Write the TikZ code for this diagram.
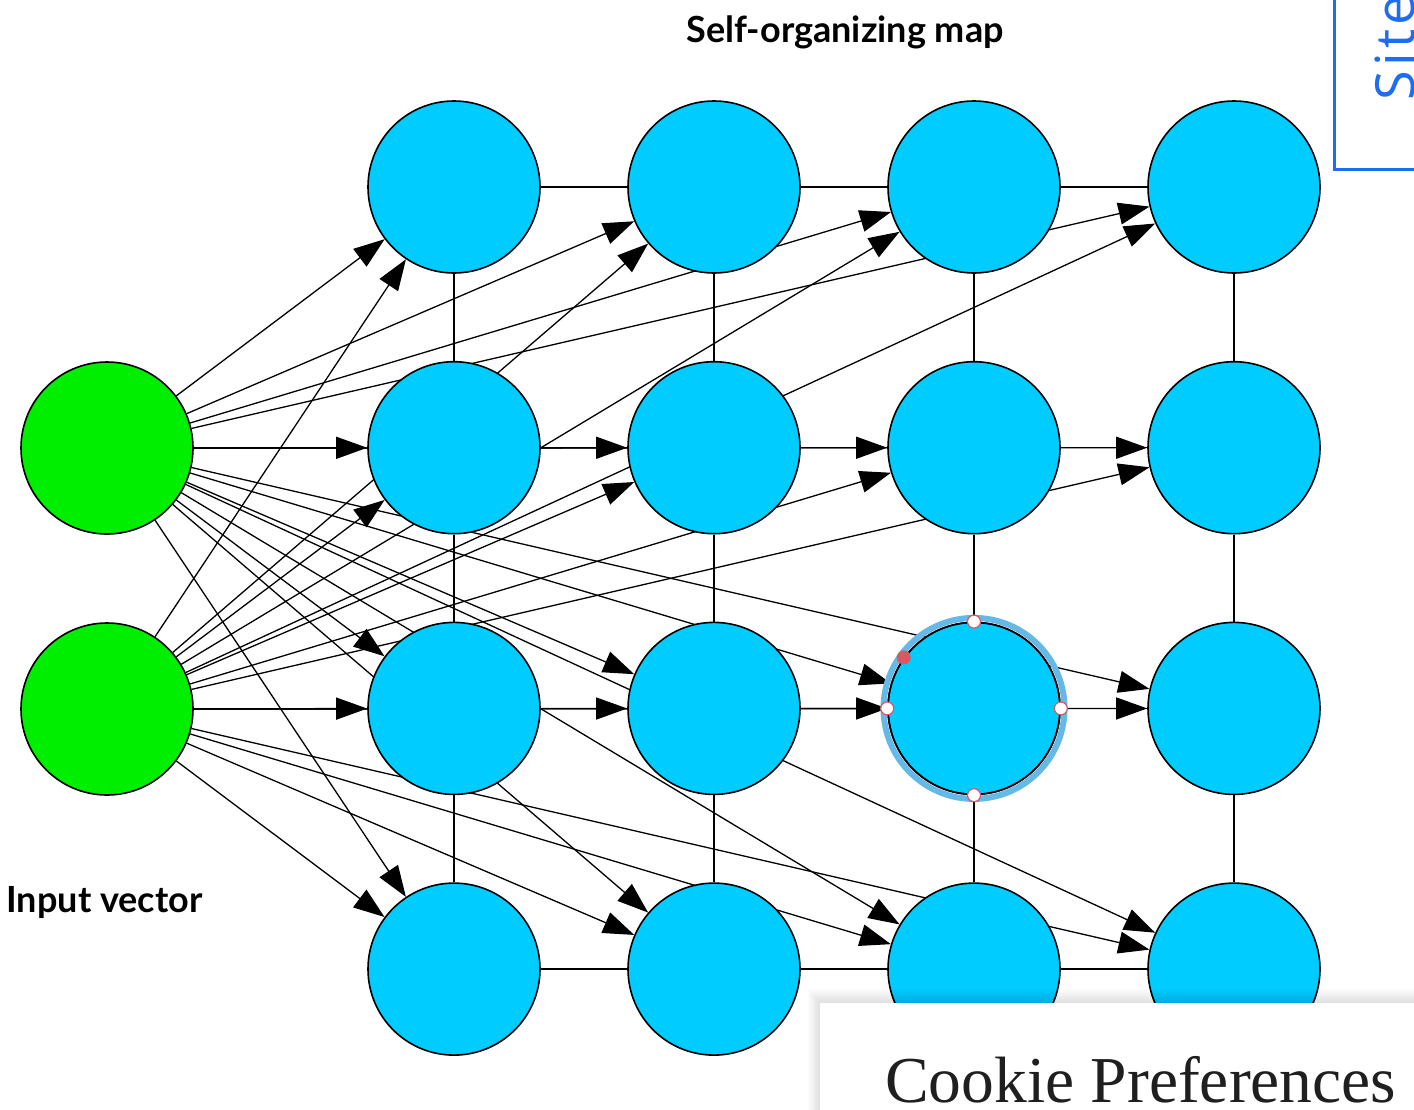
\documentclass[tikz,border=0pt]{standalone}
\usepackage{fontspec}
\setmainfont{Lato}
\newfontfamily\cookiefont{Liberation Serif}
\newfontfamily\sitefont[LetterSpace=8]{Open Sans}
\usetikzlibrary{arrows.meta}
\definecolor{mapblue}{RGB}{0,204,255}
\definecolor{inputgreen}{RGB}{0,238,0}
\definecolor{selring}{RGB}{100,185,230}
\definecolor{handlered}{RGB}{218,88,100}
\definecolor{sitelink}{RGB}{30,108,240}
\pgfdeclarelayer{canvas}
\pgfdeclarelayer{bg}
\pgfsetlayers{canvas,bg,main}
\begin{document}
\begin{tikzpicture}[x=1pt,y=-1pt,
  unit/.style={circle, draw=black, line width=1.6pt, minimum size=172pt, inner sep=0pt},
  mapunit/.style={unit, fill=mapblue},
  inunit/.style={unit, fill=inputgreen},
  weight/.style={line width=1.3pt, -{Triangle[length=31pt,width=22pt]}},
  gridlink/.style={line width=1.3pt},
  title/.style={font=\bfseries\fontsize{36}{42}\selectfont},
  handle/.style={circle, fill=white, draw=handlered, line width=1.2pt, minimum size=13pt, inner sep=0pt}]
\useasboundingbox (0,0) rectangle (1414,1109);
\begin{pgfonlayer}{canvas}
  \fill[white] (0,0) rectangle (1414,1109);
\end{pgfonlayer}

% input layer
\node[inunit] (g1) at (107,448) {};
\node[inunit] (g2) at (107,709) {};

% 4x4 map units, n<col><row>
\foreach \c in {0,...,3}
  \foreach \r in {0,...,3}
    \node[mapunit] (n\c\r) at ({454+260*\c},{187+260.7*\r}) {};

\begin{pgfonlayer}{bg}
  % lattice links
  \foreach \r in {0,...,3}
    \foreach \c/\d in {0/1,1/2,2/3} {
      \draw[gridlink] (n\c\r) -- (n\d\r);
      \draw[gridlink] (n\r\c) -- (n\r\d);
    }
  % weights from each input to every unit
  \foreach \i in {1,2}
    \foreach \c in {0,...,3}
      \foreach \r in {0,...,3}
        \draw[weight] (g\i) -- (n\c\r);
\end{pgfonlayer}

% titles
\node[title] (maptitle) at (845,32) {Self-organizing map};
\node[title, anchor=west] (intitle) at (3,902) {Input vector};

% selected unit with handles
\draw[selring, line width=6pt] (n22.center) circle[radius=90.5];
\draw[black, line width=1.6pt] (n22.center) circle[radius=86];
\node[handle] (hn) at (n22.north) {};
\node[handle] (hs) at (n22.south) {};
\node[handle] (he) at (n22.east) {};
\node[handle] (hw) at (n22.west) {};
\fill[handlered] (n22.144) circle[radius=7];

\begin{scope}
  \clip (0,0) rectangle (1414,1109);
  % site tab
  \draw[sitelink, line width=3pt] (1334,-10) -- (1334,169) -- (1430,169);
  \node[rotate=90, anchor=base west, inner sep=0pt, text=sitelink,
        font=\sitefont\fontsize{54}{60}\selectfont] (site) at (1414,101) {Site};
  % cookie banner
  \foreach \k in {1,...,10}
    \fill[black, opacity=0.012] ({820-\k*1.2},{1003-\k*1.4}) rectangle (1420,1115);
  \fill[white] (820,1003) rectangle (1420,1115);
  \node[anchor=base west, inner sep=0pt,
        font=\cookiefont\fontsize{65.5}{70}\selectfont, text=black!88] (cookie) at (885,1102) {Cookie Preferences};
\end{scope}
\end{tikzpicture}
\end{document}
